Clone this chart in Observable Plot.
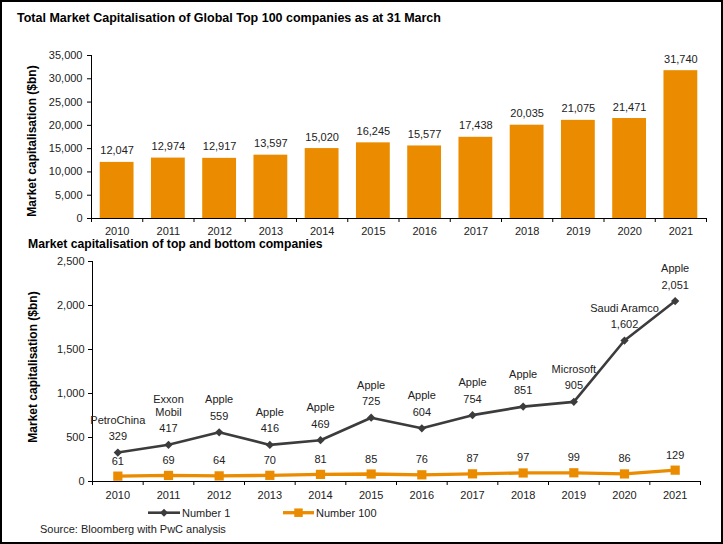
<!DOCTYPE html>
<html>
<head>
<meta charset="utf-8">
<script src="https://cdn.jsdelivr.net/npm/d3@7"></script>
<script src="https://cdn.jsdelivr.net/npm/@observablehq/plot@0.6"></script>
<style>
  html, body { margin: 0; padding: 0; background: #fff; }
  body { font-family: "Liberation Sans", Arial, sans-serif; color: #222; }
  #wrap { position: relative; width: 723px; height: 544px; overflow: hidden; }
  #frame { position: absolute; left: 0; top: 0; width: 723px; height: 544px; box-sizing: border-box; border: 2px solid #000; pointer-events: none; }
  .abs { position: absolute; white-space: nowrap; }
  .title { font-weight: bold; color: #000; }
  .ytitle { font-weight: bold; font-size: 12px; color: #000; transform: translate(-50%, -50%) rotate(-90deg); }
  svg { overflow: visible; }
</style>
</head>
<body>
<div id="wrap">
  <div class="abs title" style="left:17px; top:11px; font-size:12.5px;">Total Market Capitalisation of Global Top 100 companies as at 31 March</div>
  <div class="abs ytitle" style="left:32px; top:141px;">Market capitalisation ($bn)</div>
  <div id="top" class="abs" style="left:0; top:40px;"></div>
  <div class="abs title" style="left:28px; top:237px; font-size:12.2px;">Market capitalisation of top and bottom companies</div>
  <div class="abs ytitle" style="left:33px; top:367px;">Market capitalisation ($bn)</div>
  <div id="bottom" class="abs" style="left:0; top:250px;"></div>
  <div id="legend" class="abs" style="left:0; top:502px;"></div>
  <div class="abs" style="left:40px; top:523px; font-size:11px; color:#222;">Source: Bloomberg with PwC analysis</div>
  <div id="frame"></div>
</div>
<script>
// ---- data ----
const years = [2010, 2011, 2012, 2013, 2014, 2015, 2016, 2017, 2018, 2019, 2020, 2021];
const totalCap = [12047, 12974, 12917, 13597, 15020, 16245, 15577, 17438, 20035, 21075, 21471, 31740];
const number1 = [329, 417, 559, 416, 469, 725, 604, 754, 851, 905, 1602, 2051];
const number1Names = ["PetroChina", "Exxon\nMobil", "Apple", "Apple", "Apple", "Apple", "Apple", "Apple", "Apple", "Microsoft", "Saudi Aramco", "Apple"];
const number100 = [61, 69, 64, 70, 81, 85, 76, 87, 97, 99, 86, 129];
const yTicksTop = [0, 5000, 10000, 15000, 20000, 25000, 30000, 35000];
const yTicksBottom = [0, 500, 1000, 1500, 2000, 2500];
const seriesNames = ["Number 1", "Number 100"];

// ---- styles ----
const orange = "#EB8C00";
const dark = "#3C3C3C";
const font = '"Liberation Sans", Arial, sans-serif';
const fmt = d3.format(",");

const topData = years.map((year, i) => ({year, value: totalCap[i]}));
const lineData = years.map((year, i) => ({year, n1: number1[i], name: number1Names[i], n100: number100[i]}));
const boundaries = years.map(y => y - 0.5).concat([years[years.length - 1] + 0.5]);
const xDomain = [years[0] - 0.5, years[years.length - 1] + 0.5];

const topChart = Plot.plot({
  width: 723, height: 200,
  marginLeft: 91, marginRight: 17, marginTop: 15, marginBottom: 22,
  style: {fontFamily: font, fontSize: "11px", color: "#222", background: "transparent"},
  x: {domain: xDomain},
  y: {domain: [0, 35000]},
  marks: [
    Plot.rectY(topData, {x1: d => d.year - 0.33, x2: d => d.year + 0.33, y: "value", fill: orange}),
    Plot.text(topData, {x: "year", y: "value", text: d => fmt(d.value), lineAnchor: "bottom", dy: -8, fill: "#222", fontSize: 11}),
    Plot.axisY({ticks: yTicksTop, tickFormat: fmt, tickSize: 4, tickPadding: 5, label: null, stroke: "#000"}),
    Plot.axisX({ticks: boundaries, tickFormat: () => "", tickSize: 4, label: null, stroke: "#000"}),
    Plot.axisX({ticks: years, tickFormat: d => String(d), tickSize: 0, tickPadding: 9, label: null}),
    Plot.ruleX([xDomain[0]], {stroke: "#000"}),
    Plot.ruleY([0], {stroke: "#000"})
  ]
});
document.getElementById("top").append(topChart);

const bottomChart = Plot.plot({
  width: 723, height: 251,
  marginLeft: 92, marginRight: 23, marginTop: 11, marginBottom: 20,
  style: {fontFamily: font, fontSize: "11px", color: "#222", background: "transparent"},
  x: {domain: xDomain},
  y: {domain: [0, 2500]},
  marks: [
    Plot.axisY({ticks: yTicksBottom, tickFormat: fmt, tickSize: 4, tickPadding: 4, label: null, stroke: "#000"}),
    Plot.axisX({ticks: boundaries, tickFormat: () => "", tickSize: 4, label: null, stroke: "#000"}),
    Plot.axisX({ticks: years, tickFormat: d => String(d), tickSize: 0, tickPadding: 9.5, label: null}),
    Plot.ruleX([xDomain[0]], {stroke: "#000"}),
    Plot.ruleY([0], {stroke: "#000"}),
    Plot.line(lineData, {x: "year", y: "n100", stroke: orange, strokeWidth: 3.3}),
    Plot.dot(lineData, {x: "year", y: "n100", symbol: "square", r: 5.2, fill: orange, stroke: "none"}),
    Plot.line(lineData, {x: "year", y: "n1", stroke: dark, strokeWidth: 2.6}),
    Plot.dot(lineData, {x: "year", y: "n1", symbol: "square", rotate: 45, r: 3.3, fill: dark, stroke: "none"}),
    Plot.text(lineData, {x: "year", y: "n1", text: d => fmt(d.n1), dy: -16, fill: "#222", fontSize: 11}),
    Plot.text(lineData, {x: "year", y: "n1", text: "name", lineAnchor: "bottom", dy: -29, lineHeight: 1.12, fill: "#222", fontSize: 11}),
    Plot.text(lineData, {x: "year", y: "n100", text: d => fmt(d.n100), dy: -15, fill: "#222", fontSize: 11})
  ]
});
document.getElementById("bottom").append(bottomChart);

// ---- legend ----
const ns = "http://www.w3.org/2000/svg";
const leg = document.createElementNS(ns, "svg");
leg.setAttribute("width", 723);
leg.setAttribute("height", 22);
leg.style.fontFamily = font;
const items = [
  {name: seriesNames[0], color: dark, x0: 148, x1: 180, w: 2.6, marker: "diamond"},
  {name: seriesNames[1], color: orange, x0: 283, x1: 314, w: 3.3, marker: "square"}
];
const cy = 10.7;
for (const it of items) {
  const l = document.createElementNS(ns, "line");
  l.setAttribute("x1", it.x0); l.setAttribute("x2", it.x1);
  l.setAttribute("y1", cy); l.setAttribute("y2", cy);
  l.setAttribute("stroke", it.color); l.setAttribute("stroke-width", it.w);
  leg.append(l);
  const cx = (it.x0 + it.x1) / 2;
  const m = document.createElementNS(ns, "rect");
  const s = it.marker === "square" ? 8.5 : 5.6;
  m.setAttribute("x", cx - s / 2); m.setAttribute("y", cy - s / 2);
  m.setAttribute("width", s); m.setAttribute("height", s);
  m.setAttribute("fill", it.color);
  if (it.marker === "diamond") m.setAttribute("transform", `rotate(45 ${cx} ${cy})`);
  leg.append(m);
  const t = document.createElementNS(ns, "text");
  t.setAttribute("x", it.x1 + 2); t.setAttribute("y", cy);
  t.setAttribute("dy", "0.35em");
  t.setAttribute("font-size", 11);
  t.setAttribute("fill", "#222");
  t.textContent = it.name;
  leg.append(t);
}
document.getElementById("legend").append(leg);
</script>
</body>
</html>
